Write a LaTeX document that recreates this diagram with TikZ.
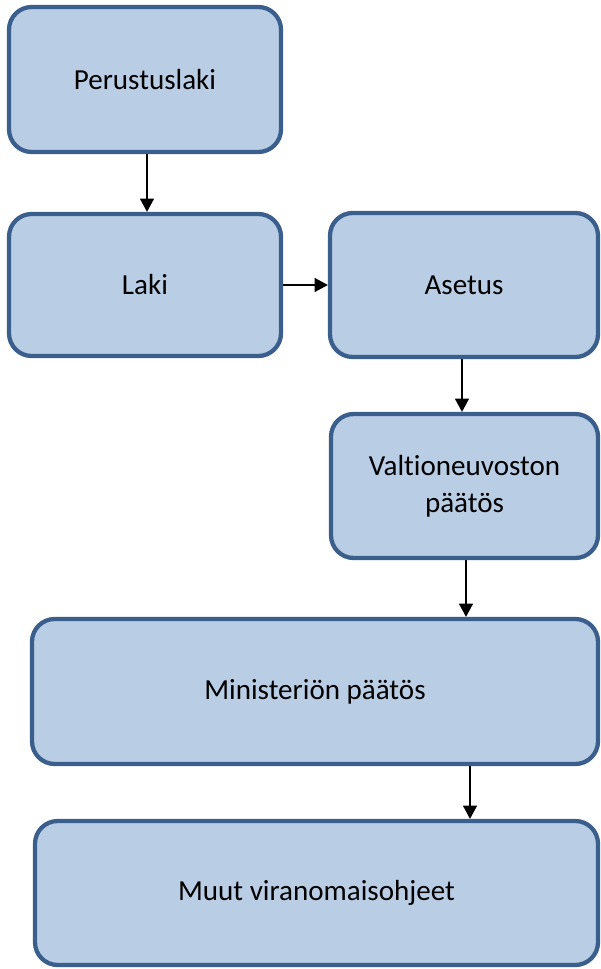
\documentclass[tikz,border=0pt]{standalone}
\usepackage{fontspec}
\setmainfont{Carlito}[Ligatures=NoCommon]
\usetikzlibrary{arrows.meta}
\definecolor{boxfill}{HTML}{B9CDE5}
\definecolor{boxline}{HTML}{3A5F8D}
\tikzset{
  box/.style={draw=boxline, fill=boxfill, line width=3.2pt, rounded corners=17pt,
    align=center, inner sep=0pt, font=\fontsize{21.8}{28}\selectfont},
  arr/.style={draw=black, line width=1.2pt, -{Triangle[length=10pt,width=10.5pt]}}
}
\begin{document}
\begin{tikzpicture}[x=0.75pt,y=-0.75pt]
\useasboundingbox (0,0) rectangle (600,969);
\node[box, minimum width=204pt, minimum height=108.75pt] (p) at (145,79.5) {Perustuslaki};
\node[box, minimum width=204pt, minimum height=106.5pt] (laki) at (145,285) {Laki};
\node[box, minimum width=201pt, minimum height=108pt] (asetus) at (464,285) {Asetus};
\node[box, minimum width=200.25pt, minimum height=108pt] (valt) at (464.5,486) {Valtioneuvoston\\päätös};
\node[box, minimum width=424.5pt, minimum height=108.75pt] (min) at (315,691.5) {Ministeriön päätös};
\node[box, minimum width=422.25pt, minimum height=108pt] (muut) at (316.5,893) {Muut viranomaisohjeet};
\coordinate (xa) at (147,0);
\coordinate (xb) at (462,0);
\coordinate (xc) at (466,0);
\coordinate (xd) at (470,0);
\draw[arr] (p.south -| xa) -- (laki.north -| xa);
\draw[arr] (laki) -- (asetus);
\draw[arr] (asetus.south -| xb) -- (valt.north -| xb);
\draw[arr] (valt.south -| xc) -- (min.north -| xc);
\draw[arr] (min.south -| xd) -- (muut.north -| xd);
\end{tikzpicture}
\end{document}
